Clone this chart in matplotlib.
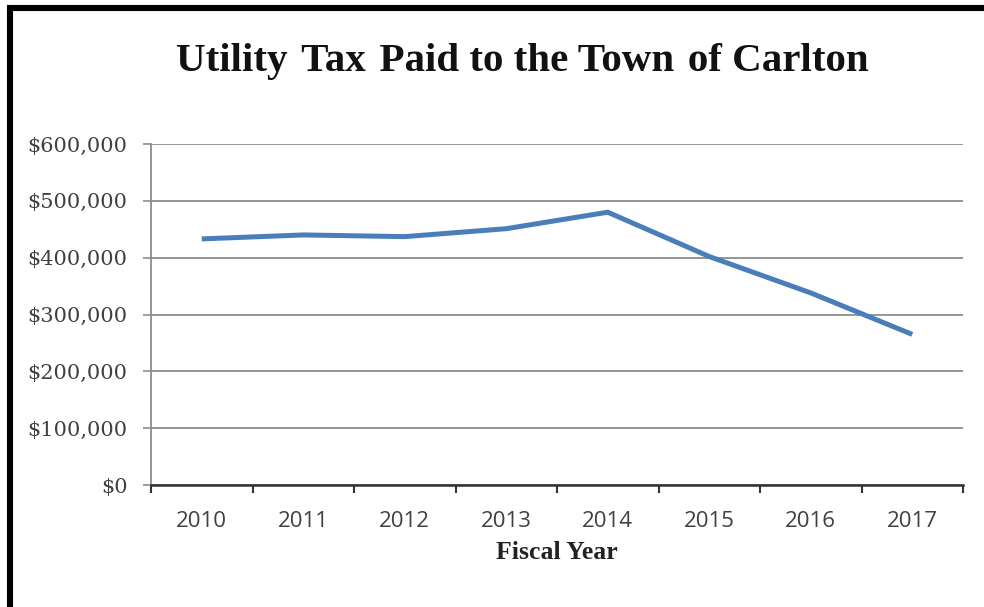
import matplotlib
matplotlib.use("Agg")
import matplotlib.pyplot as plt
from matplotlib.lines import Line2D
from matplotlib.ticker import FuncFormatter, FixedLocator

years = ["2010", "2011", "2012", "2013", "2014", "2015", "2016", "2017"]
tax_paid = [433000, 440000, 437000, 451000, 480000, 402000, 338000, 265000]
y_ticks = [0, 100000, 200000, 300000, 400000, 500000, 600000]

W, H = 984, 607
fig = plt.figure(figsize=(W / 100, H / 100), dpi=100)
fig.patch.set_facecolor("white")

ax = fig.add_axes([151 / W, 1 - 485 / H, (963 - 151) / W, (485 - 144) / H])
x = list(range(len(years)))
ax.plot(x, tax_paid, color="#4a7ebb", lw=3.6, solid_capstyle="butt", solid_joinstyle="miter", zorder=3)

ax.set_xlim(-0.5, len(years) - 0.5)
ax.set_ylim(0, 600000)

ax.set_yticks(y_ticks)
ax.yaxis.set_major_formatter(FuncFormatter(lambda v, p: "${:,.0f}".format(v)))
ax.grid(axis="y", color="#8c8c8c", lw=1.3, zorder=1)
ax.tick_params(axis="y", direction="out", length=6, width=1.2, color="#8c8c8c", pad=11,
               labelsize=15, labelcolor="#404040")
for lab in ax.get_yticklabels():
    lab.set_fontfamily("DejaVu Serif")

ax.set_xticks(x)
ax.set_xticklabels(years)
ax.xaxis.set_minor_locator(FixedLocator([i - 0.5 for i in range(len(years) + 1)]))
ax.tick_params(axis="x", which="major", length=0, pad=19, labelsize=16, labelcolor="#404040")
ax.tick_params(axis="x", which="minor", direction="out", length=6, width=1.5, color="#333333")
for lab in ax.get_xticklabels():
    lab.set_fontfamily("Open Sans")

for s in ["top", "right"]:
    ax.spines[s].set_visible(False)
ax.spines["left"].set_color("#8c8c8c")
ax.spines["left"].set_linewidth(1.3)
ax.spines["bottom"].set_color("#333333")
ax.spines["bottom"].set_linewidth(1.8)
ax.spines["bottom"].set_zorder(4)

ax.set_xlabel("Fiscal Year", fontfamily="Liberation Serif", fontweight="bold", fontsize=18.5,
              color="#222222", labelpad=6)

fig.text(522 / W, 1 - 71 / H, "Utility \u200aTax \u200aPaid to the Town \u200aof Carlton", ha="center",
         va="baseline", family=["Liberation Serif", "DejaVu Serif"], fontweight="bold", fontsize=29.5,
         color="#111111")

# outer border (left and top)
fig.add_artist(Line2D([10 / W, 10 / W], [0, 1 - 5 / H], transform=fig.transFigure, color="black", lw=4.4,
                      solid_capstyle="butt"))
fig.add_artist(Line2D([7 / W, 1], [1 - 8 / H, 1 - 8 / H], transform=fig.transFigure, color="black", lw=4.4,
                      solid_capstyle="butt"))

fig.savefig("out.png", dpi=100, facecolor="white")
